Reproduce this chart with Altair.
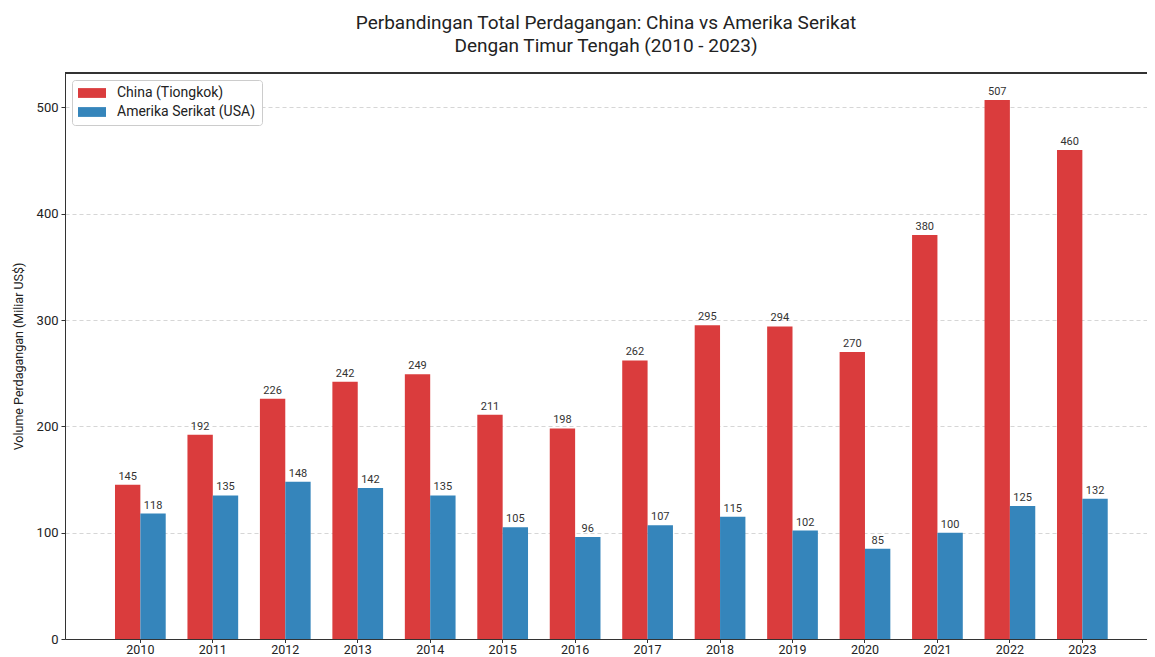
import altair as alt
import pandas as pd

years = [str(y) for y in range(2010, 2024)]
china = [145, 192, 226, 242, 249, 211, 198, 262, 295, 294, 270, 380, 507, 460]
usa = [118, 135, 148, 142, 135, 105, 96, 107, 115, 102, 85, 100, 125, 132]
series = ["China (Tiongkok)", "Amerika Serikat (USA)"]
colors = ["#da3c3d", "#3585bb"]

rows = []
for i, y in enumerate(years):
    rows.append({"Tahun": y, "Negara": series[0], "Nilai": china[i]})
    rows.append({"Tahun": y, "Negara": series[1], "Nilai": usa[i]})
df = pd.DataFrame(rows)

FONT = "Roboto"
W, H = 1082, 566

x = alt.X("Tahun:N", title=None,
          scale=alt.Scale(paddingInner=0.3, paddingOuter=0.616, align=0.56),
          axis=alt.Axis(labelAngle=0, labelFontSize=12.5, labelColor="#222",
                        tickColor="#333", tickSize=3.5, domainColor="#333",
                        labelPadding=1))
xo = alt.XOffset("Negara:N", sort=series, scale=alt.Scale(paddingInner=0))
y = alt.Y("Nilai:Q", title="Volume Perdagangan (Miliar US$)",
          scale=alt.Scale(domain=[0, 532.35], nice=False),
          axis=alt.Axis(values=[0, 100, 200, 300, 400, 500], labelFontSize=13,
                        labelColor="#222", titleFontSize=12.5, titleFontWeight="normal",
                        titleColor="#222", tickColor="#333", tickSize=4,
                        domainColor="#333", grid=True, gridDash=[4, 3],
                        gridColor="#cccccc", gridOpacity=0.8, titlePadding=11,
                        labelPadding=3))

bars = alt.Chart(df).mark_bar(opacity=1).encode(
    x=x, xOffset=xo, y=y,
    color=alt.Color("Negara:N", sort=series,
                    scale=alt.Scale(domain=series, range=colors),
                    legend=alt.Legend(title=None, orient="top-left", offset=7,
                                      labelFontSize=14, labelColor="#222",
                                      symbolType="M-1,-0.7H3V0.7H-1Z",
                                      symbolSize=196, symbolStrokeWidth=0,
                                      symbolOpacity=1,
                                      strokeColor="#cccccc", fillColor="white",
                                      cornerRadius=3, padding=6, rowPadding=5,
                                      labelOffset=25)),
)

labels = alt.Chart(df).mark_text(baseline="bottom", dy=-3, fontSize=11,
                                 color="#333", font=FONT).encode(
    x=x, xOffset=xo, y=y, text="Nilai:Q"
)

top_line = alt.Chart(df).mark_rule(color="#333", strokeWidth=1).encode(
    x=alt.value(0), x2=alt.value(W), y=alt.value(0)
)

chart = (bars + labels + top_line).properties(
    width=W, height=H,
    title=alt.TitleParams(
        ["Perbandingan Total Perdagangan: China vs Amerika Serikat",
         "Dengan Timur Tengah (2010 - 2023)"],
        fontSize=19, fontWeight="normal", color="#222", lineHeight=23,
        offset=17, anchor="middle", font=FONT),
    autosize="none",
    padding={"left": 57, "top": 65, "right": 0, "bottom": 20},
).configure(font=FONT).configure_view(stroke=None)

chart.save("out.html", embed_options={"renderer": "svg", "actions": False})
